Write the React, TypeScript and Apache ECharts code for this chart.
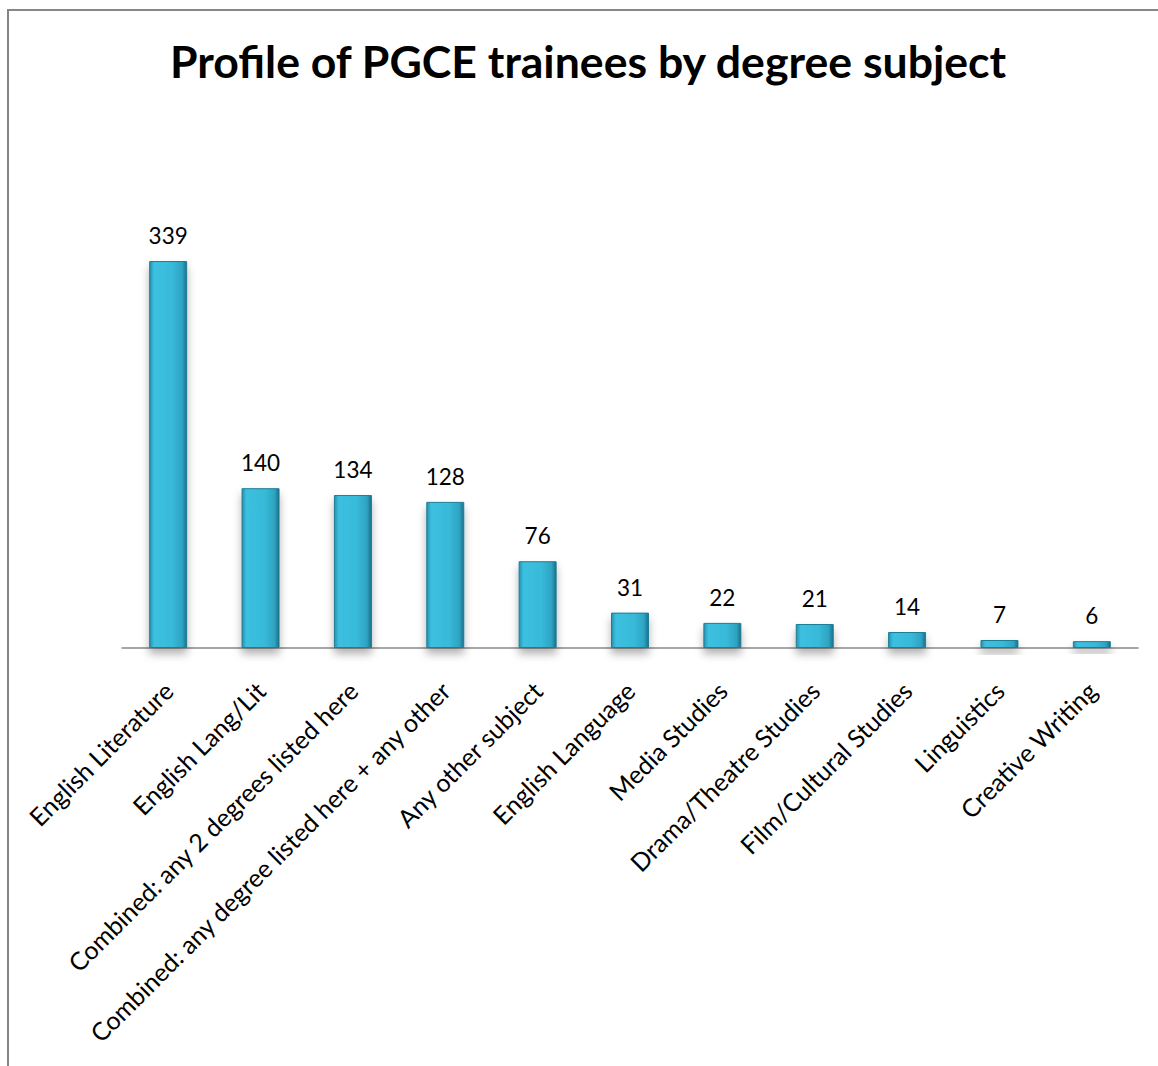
import React, { useEffect, useRef } from "react";
import * as echarts from "echarts";

const categories = [
  "English Literature",
  "English Lang/Lit",
  "Combined: any 2 degrees listed here",
  "Combined: any degree listed here + any other",
  "Any other subject",
  "English Language",
  "Media Studies",
  "Drama/Theatre Studies",
  "Film/Cultural Studies",
  "Linguistics",
  "Creative Writing",
];
const values = [339, 140, 134, 128, 76, 31, 22, 21, 14, 7, 6];
const titleText = "Profile of PGCE trainees by degree subject";

const FONT = "Lato, 'Noto Sans', sans-serif";

export default function App() {
  const ref = useRef<HTMLDivElement>(null);
  useEffect(() => {
    if (!ref.current) return;
    const chart = echarts.init(ref.current, undefined, { renderer: "svg" });
    const barColor = new echarts.graphic.LinearGradient(0, 0, 1, 0, [
      { offset: 0, color: "#2691ad" },
      { offset: 0.12, color: "#3cc0e0" },
      { offset: 0.6, color: "#38bad9" },
      { offset: 0.88, color: "#2ea3c2" },
      { offset: 1, color: "#1c6f86" },
    ]);
    chart.setOption({
      animation: false,
      backgroundColor: "#ffffff",
      title: {
        text: titleText,
        left: 165,
        top: 33,
        textStyle: {
          fontFamily: FONT,
          fontSize: 44.6,
          fontWeight: "bold",
          color: "#000000",
        },
      },
      graphic: [
        {
          type: "rect",
          shape: { x: 8, y: 10, width: 1300, height: 1300 },
          style: { fill: "none", stroke: "#868686", lineWidth: 2 },
          silent: true,
        },
      ],
      grid: { left: 122, right: 20, top: 191.4, height: 456.6 },
      xAxis: {
        type: "category",
        data: categories,
        axisLine: { show: true, lineStyle: { color: "#888888", width: 1.5 } },
        axisTick: { show: false },
        axisLabel: {
          rotate: 45,
          interval: 0,
          margin: 38,
          fontFamily: FONT,
          fontSize: 25,
          color: "#000000",
        },
      },
      yAxis: {
        type: "value",
        min: 0,
        max: 400,
        show: false,
        splitLine: { show: false },
      },
      series: [
        {
          type: "bar",
          data: values,
          barWidth: 38,
          itemStyle: {
            color: barColor,
            borderColor: "#1f7d95",
            borderWidth: 1,
            shadowColor: "rgba(0,0,0,0.3)",
            shadowBlur: 8,
            shadowOffsetY: 6,
          },
          label: {
            show: true,
            position: "top",
            distance: 14,
            fontFamily: FONT,
            fontSize: 22.5,
            color: "#000000",
          },
        },
      ],
    });
    return () => chart.dispose();
  }, []);
  return (
    <div
      ref={ref}
      style={{ position: "absolute", left: 0, top: 0, width: 1158, height: 1066 }}
    />
  );
}
